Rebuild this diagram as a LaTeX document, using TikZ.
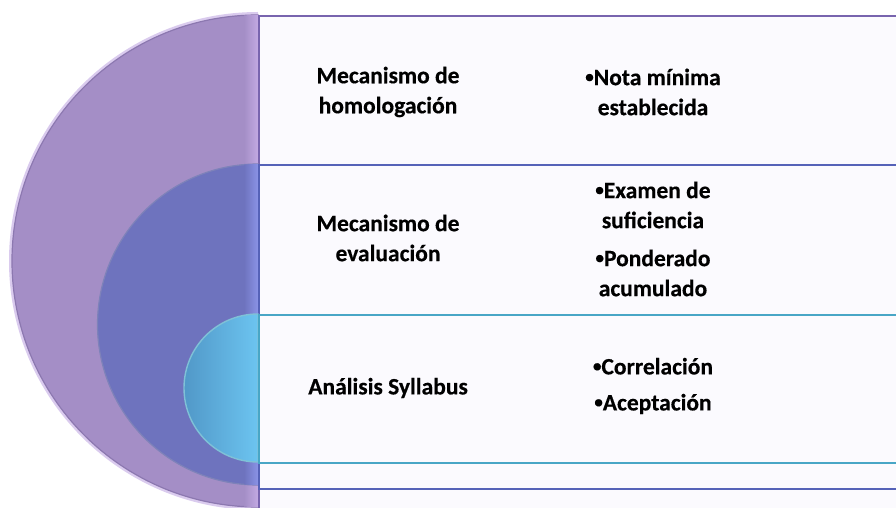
\documentclass[tikz,border=0pt]{standalone}
\usepackage{fontspec}
\setmainfont{Carlito}[BoldFeatures={FakeBold=0.4}]
\newcommand{\smbul}{\raisebox{0.12em}{\fontsize{17}{30}\selectfont •}}
\begin{document}
\begin{tikzpicture}[x=1pt,y=1pt,
  lbl/.style={font=\bfseries\fontsize{23.5}{30}\selectfont, align=center, text=black, inner sep=0pt},
  boxp/.style={fill=boxbg, draw=#1, line width=1.6pt}
]
\definecolor{boxbg}{HTML}{FBFAFE}
\definecolor{purp}{HTML}{A48EC6}
\definecolor{purpL}{HTML}{C2A9E2}
\definecolor{purpD}{HTML}{8C78B0}
\definecolor{purpB}{HTML}{7864AE}
\definecolor{blu}{HTML}{6E73BE}
\definecolor{bluL}{HTML}{8A93E6}
\definecolor{bluD}{HTML}{5E63A8}
\definecolor{bluB}{HTML}{5562B8}
\definecolor{cya}{HTML}{5198C8}
\definecolor{cyaL}{HTML}{6CC4F0}
\definecolor{cyaB}{HTML}{48A6C6}
\useasboundingbox (0,0) rectangle (896,507);
\clip (0,0) rectangle (896,507);
\fill[white] (0,0) rectangle (896,507);
% purple level
\path[draw=purpL!60!white, line width=3pt] (258,493.5) arc[start angle=90, end angle=270, radius=247.5];
\path[fill=purp, draw=purpD, line width=1.2pt] (258,492) arc[start angle=90, end angle=270, radius=246] -- cycle;
\begin{scope}
  \clip (258,492) arc[start angle=90, end angle=270, radius=246] -- cycle;
  \shade[left color=purp, right color=purpL] (244,-5) rectangle (258,500);
\end{scope}
\node[boxp=purpB, minimum width=660pt, minimum height=520pt, anchor=north west] (r1) at (258,492) {};
% blue level
\path[fill=blu, draw=bluD!80!white, line width=1.2pt] (258,343) arc[start angle=90, end angle=270, radius=160.5] -- cycle;
\begin{scope}
  \clip (258,343) arc[start angle=90, end angle=270, radius=160.5] -- cycle;
  \shade[left color=blu, right color=bluL] (244,0) rectangle (258,350);
\end{scope}
\node[boxp=bluB, minimum width=660pt, minimum height=324pt, anchor=north west] (r2) at (258,343) {};
% cyan level
\path[left color=cya, right color=cyaL, draw=cyaB!70!white, line width=1.4pt] (258,193) arc[start angle=90, end angle=270, radius=74] -- cycle;
\node[boxp=cyaB, minimum width=660pt, minimum height=148pt, anchor=north west] (r3) at (258,193) {};
% texts
\node[lbl] (t1) at (388,415) {Mecanismo de\\homologación};
\node[lbl] (b1) at (653,415) {\smbul Nota mínima\\establecida};
\node[lbl] (t2) at (388,269) {Mecanismo de\\evaluación};
\node[lbl] (b2) at (653,268) {\smbul Examen de\\suficiencia\\[8pt]\smbul Ponderado\\acumulado};
\node[lbl] (t3) at (388,119) {Análisis Syllabus};
\node[lbl] (b3) at (653,121) {\smbul Correlación\\[6pt]\smbul Aceptación};
\end{tikzpicture}
\end{document}
